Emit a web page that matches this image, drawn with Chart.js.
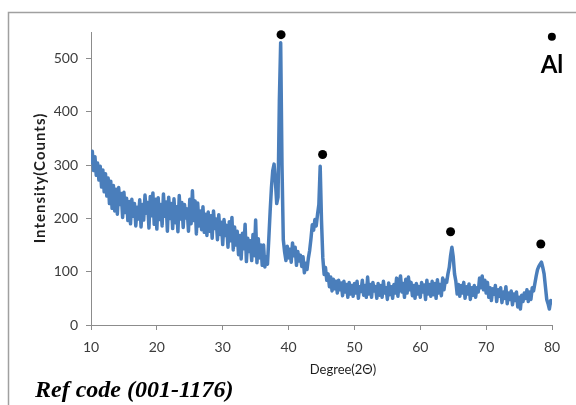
<!DOCTYPE html>
<html lang="en">
<head>
  <meta charset="UTF-8" />
  <title>XRD - Al</title>
  <script src="https://cdn.jsdelivr.net/npm/chart.js"></script>
  <style>
    body { margin: 0; background: #fff; }
    #wrap { width: 576px; height: 405px; }
  </style>
</head>
<body>
<div id="wrap"><canvas id="xrdChart" width="576" height="405"></canvas></div>

<script>
  // scan 10-80 deg (2 theta), 0.2 deg step
  const scanStart = 10;
  const scanStep = 0.2;

  // intensity (counts), one row = 2 degrees
  const counts = [
    305, 326, 290, 316, 281, 304, 272, 298, 259, 291,   // 10
    250, 284, 242, 276, 228, 270, 219, 262, 214, 255,   // 12
    208, 258, 226, 247, 202, 249, 211, 238, 196, 232,   // 14
    190, 236, 204, 228, 186, 221, 199, 235, 184, 226,   // 16
    197, 244, 210, 230, 182, 241, 205, 248, 189, 236,   // 18
    180, 239, 198, 226, 186, 246, 204, 231, 176, 240,   // 20
    200, 228, 181, 237, 192, 222, 175, 243, 199, 230,   // 22
    183, 226, 201, 218, 176, 236, 190, 252, 196, 233,   // 24
    171, 229, 186, 214, 179, 222, 174, 208, 168, 212,   // 26
    176, 205, 163, 214, 181, 199, 160, 207, 170, 193,   // 28
    151, 198, 168, 187, 146, 194, 158, 202, 141, 184,   // 30
    150, 176, 132, 168, 124, 172, 143, 189, 119, 163,   // 32
    138, 158, 121, 170, 130, 197, 117, 162, 126, 150,   // 34
    112, 150, 109, 128, 114, 162, 213, 258, 290, 302,   // 36
    270, 228, 240, 420, 530, 300, 160, 137, 121, 148,   // 38
    126, 142, 118, 154, 130, 146, 112, 138, 120, 131,   // 40
    110, 128,  98, 116, 104, 125, 140, 162, 188, 178,   // 42
    198, 186, 208, 226, 298, 196, 126,  95, 108,  84,   // 44
     96,  72,  90,  64,  86,  68,  82,  60,  84,  66,   // 46
     79,  55,  82,  62,  76,  52,  80,  58,  74,  54,   // 48
     78,  60,  82,  50,  72,  63,  84,  56,  74,  52,   // 50
     90,  58,  76,  52,  80,  64,  72,  50,  78,  56,   // 52
     74,  52,  82,  60,  70,  48,  79,  57,  72,  50,   // 54
     76,  60,  88,  54,  82,  92,  62,  78,  52,  86,   // 56
     60,  90,  66,  80,  55,  74,  50,  78,  58,  72,   // 58
     52,  80,  62,  75,  48,  84,  58,  76,  54,  82,   // 60
     57,  78,  50,  85,  60,  76,  55,  88,  66,  84,   // 62
     80,  96, 108, 130, 146, 128,  96,  82,  58,  76,   // 64
     54,  74,  60,  80,  50,  72,  58,  77,  48,  70,   // 66
     56,  74,  52,  70,  62,  88,  70,  92,  66,  84,   // 68
     60,  80,  52,  70,  46,  68,  58,  74,  44,  66,   // 70
     54,  70,  42,  62,  50,  72,  40,  60,  48,  64,   // 72
     38,  58,  46,  62,  34,  52,  30,  56,  44,  60,   // 74
     50,  66,  44,  62,  48,  70,  64,  78,  92, 104,   // 76
    110, 114, 118, 108,  96,  72,  48,  40,  30,  46,   // 78
     42                                                 // 80
  ];

  // Al reflections marked above the peaks
  const peakDeg = [38.86, 45.17, 64.6, 78.3];
  const peakMark = [545, 320, 175, 152];

  // key marker for "Al"
  const keyDeg = [79.98];
  const keyMark = [541];

  const xTicks = [10, 20, 30, 40, 50, 60, 70, 80];
  const yTicks = [0, 100, 200, 300, 400, 500];

  const axisGray = '#8c8c8c';
  const lineBlue = '#4a7ebb';

  const scan = counts.map((c, i) => ({ x: +(scanStart + i * scanStep).toFixed(1), y: c }));
  const peaks = peakDeg.map((d, i) => ({ x: d, y: peakMark[i] }));
  const key = keyDeg.map((d, i) => ({ x: d, y: keyMark[i] }));

  // frame and free text (axis titles, key label, reference code)
  const decorations = {
    id: 'decorations',
    beforeDraw(chart) {
      const ctx = chart.ctx;
      ctx.save();
      ctx.fillStyle = '#fff';
      ctx.fillRect(0, 0, chart.width, chart.height);
      ctx.strokeStyle = '#a0a0a0';
      ctx.lineWidth = 1.5;
      ctx.beginPath();
      ctx.moveTo(8.5, 405);
      ctx.lineTo(8.5, 12.5);
      ctx.lineTo(576, 12.5);
      ctx.stroke();
      ctx.restore();
    },
    afterDraw(chart) {
      const ctx = chart.ctx;
      ctx.save();
      ctx.fillStyle = '#1e1e1e';
      ctx.textAlign = 'center';
      ctx.textBaseline = 'middle';

      ctx.font = '13px Lato';
      ctx.fillText('Degree(2\u0398)', 343, 370);

      ctx.save();
      ctx.translate(40, 178);
      ctx.rotate(-Math.PI / 2);
      ctx.font = 'bold 15px Lato';
      ctx.letterSpacing = '1px';
      ctx.fillText('Intensity(Counts)', 0, 0);
      ctx.restore();

      ctx.fillStyle = '#000';
      ctx.font = 'bold 24px Lato';
      ctx.fillText('Al', 552, 65);

      ctx.textAlign = 'left';
      ctx.textBaseline = 'alphabetic';
      ctx.font = 'italic bold 24px "Liberation Serif"';
      ctx.fillText('Ref code (001-1176)', 35, 397);
      ctx.restore();
    }
  };

  new Chart(document.getElementById('xrdChart'), {
    type: 'line',
    data: {
      datasets: [
        {
          type: 'scatter',
          data: peaks,
          order: 0,
          pointRadius: 4.5,
          pointBackgroundColor: '#000',
          pointBorderWidth: 0,
          clip: false
        },
        {
          type: 'scatter',
          data: key,
          order: 0,
          pointRadius: 4,
          pointBackgroundColor: '#000',
          pointBorderWidth: 0,
          clip: false
        },
        {
          data: scan,
          order: 1,
          borderColor: lineBlue,
          borderWidth: 3.5,
          borderJoinStyle: 'round',
          borderCapStyle: 'round',
          pointRadius: 0,
          tension: 0,
          fill: false
        }
      ]
    },
    options: {
      responsive: false,
      animation: false,
      events: [],
      layout: { padding: { left: 0, right: 24, top: 32, bottom: 0 } },
      plugins: {
        legend: { display: false },
        tooltip: { enabled: false }
      },
      scales: {
        x: {
          type: 'linear',
          min: 10,
          max: 80,
          afterBuildTicks: (axis) => { axis.ticks = xTicks.map(v => ({ value: v })); },
          afterFit: (axis) => { axis.height = 80; },
          grid: { drawOnChartArea: false, drawTicks: true, tickLength: 5, color: axisGray },
          border: { color: axisGray, width: 1 },
          ticks: { padding: 9, color: '#3c3c3c', font: { family: 'Lato', size: 14 } }
        },
        y: {
          min: 0,
          max: 550,
          afterBuildTicks: (axis) => { axis.ticks = yTicks.map(v => ({ value: v })); },
          afterFit: (axis) => { axis.width = 91; },
          grid: { drawOnChartArea: false, drawTicks: true, tickLength: 5, color: axisGray },
          border: { color: axisGray, width: 1 },
          ticks: { padding: 8, color: '#3c3c3c', font: { family: 'Lato', size: 14 } }
        }
      }
    },
    plugins: [decorations]
  });
</script>
</body>
</html>
